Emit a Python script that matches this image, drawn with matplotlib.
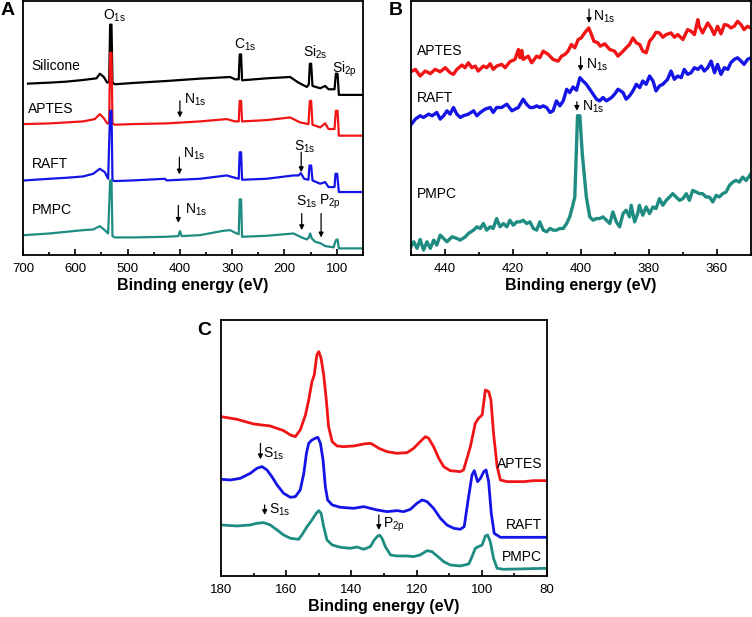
import matplotlib
matplotlib.use("Agg")
import matplotlib.pyplot as plt
from matplotlib.ticker import MultipleLocator

plt.rcParams['font.family'] = ['Liberation Sans', 'DejaVu Sans']
plt.rcParams['mathtext.fontset'] = 'custom'
plt.rcParams['mathtext.rm'] = 'Liberation Sans'
plt.rcParams['mathtext.it'] = 'Liberation Sans:italic'

RED = '#f01414'
BLUE = '#1414e6'
TEAL = '#1f8c82'

# ---- panel A: survey spectra (stacked, a.u.) ----
a_sil_e = [690.4, 648.9, 617.0, 585.1, 559.5, 553.1, 545.5, 539.1, 535.3, 533.4, 530.8, 528.9, 524.4,
           489.3, 425.5, 361.6, 304.1, 294.6, 287.5, 285.6, 283.0, 281.1, 233.9, 189.2, 173.2, 157.3,
           153.4, 151.5, 149.0, 146.4, 131.7, 122.2, 115.8, 104.3, 101.7, 98.5, 96.0, 51.9]
a_sil_i = [517, 520, 523, 528, 533, 547, 537, 520, 523, 695, 695, 520, 515,
           519, 525, 532, 537, 530, 530, 605, 605, 527, 533, 537, 520, 507,
           515, 577, 577, 510, 503, 510, 500, 500, 547, 547, 483, 483]

a_apt_e = [696.8, 648.9, 617.0, 585.1, 562.7, 553.1, 545.5, 539.1, 535.3, 533.4, 530.8, 528.9, 524.4,
           489.3, 425.5, 361.6, 310.5, 294.6, 287.5, 285.6, 283.0, 281.1, 233.9, 189.2, 170.1, 154.1,
           151.5, 149.0, 146.4, 131.7, 122.2, 115.8, 104.3, 101.7, 98.5, 96.0, 51.9]
a_apt_i = [395, 397, 400, 403, 410, 425, 413, 397, 397, 610, 610, 397, 393,
           395, 397, 403, 410, 403, 403, 465, 465, 403, 407, 415, 400, 395,
           465, 465, 393, 385, 397, 380, 380, 435, 435, 360, 360]

a_raft_e = [696.8, 648.9, 617.0, 585.1, 565.9, 553.1, 543.6, 537.2, 533.4, 530.8, 528.9, 524.4,
            489.3, 428.6, 425.5, 361.6, 310.5, 294.6, 287.5, 285.6, 283.0, 281.1, 233.9, 182.8,
            173.2, 168.8, 162.4, 154.1, 152.2, 149.0, 146.4, 131.7, 122.2, 115.8, 104.3, 102.4,
            99.2, 96.0, 51.9]
a_raft_i = [225, 230, 233, 237, 245, 260, 250, 230, 435, 435, 225, 223,
            225, 230, 225, 230, 240, 233, 230, 310, 310, 227, 230, 240,
            240, 247, 230, 227, 270, 270, 225, 215, 220, 205, 205, 245,
            245, 190, 190]

a_pmpc_e = [696.8, 648.9, 617.0, 585.1, 565.9, 553.1, 543.6, 537.2, 533.4, 530.8, 528.9, 524.4,
            489.3, 425.5, 403.1, 399.9, 396.7, 361.6, 316.9, 304.1, 291.4, 287.5, 285.6, 283.0,
            281.1, 233.9, 182.8, 166.9, 157.3, 153.4, 150.9, 147.7, 141.4, 130.5, 122.2, 106.2,
            101.7, 98.5, 96.0, 51.9]
a_pmpc_i = [60, 65, 70, 75, 77, 87, 75, 65, 225, 225, 57, 53,
            53, 55, 57, 72, 57, 60, 73, 75, 65, 63, 168, 168,
            55, 58, 65, 53, 47, 53, 65, 50, 40, 35, 27, 23,
            45, 47, 20, 20]

# ---- panel B: N1s region ----
b_apt_e = [450.0, 448.7, 447.3, 445.8, 444.3, 442.9, 441.4, 439.9, 438.5, 437.5, 436.5, 435.0, 434.1,
           433.1, 432.1, 431.1, 430.2, 428.7, 427.7, 426.7, 425.8, 424.8, 423.3, 422.3, 420.9, 419.4,
           418.4, 417.9, 417.4, 417.0, 415.5, 414.5, 413.0, 412.1, 411.1, 409.6, 408.2, 406.7, 405.7,
           404.7, 403.8, 402.8, 401.8, 400.8, 399.9, 398.9, 397.7, 396.9, 396.2, 395.0, 394.3, 393.0,
           391.5, 390.1, 389.1, 387.6, 386.7, 385.7, 384.7, 383.7, 382.7, 381.8, 380.8, 379.8, 378.8,
           377.9, 376.9, 375.9, 374.9, 373.5, 372.5, 371.5, 370.0, 368.6, 367.6, 366.6, 365.6, 365.2,
           364.2, 362.7, 361.7, 360.8, 359.8, 358.8, 357.8, 356.8, 355.9, 354.9, 353.9, 352.9, 352.0,
           351.0, 350.0]
b_apt_i = [553, 560, 540, 555, 547, 560, 553, 565, 550, 545, 560, 573, 565,
           580, 565, 570, 555, 570, 565, 577, 560, 570, 575, 565, 583, 590,
           620, 595, 617, 590, 600, 580, 600, 595, 615, 605, 590, 585, 600,
           605, 615, 635, 625, 650, 655, 670, 685, 665, 645, 640, 630, 637,
           620, 615, 600, 615, 625, 635, 655, 640, 635, 615, 610, 645, 657,
           672, 670, 657, 665, 670, 657, 665, 650, 680, 675, 665, 710, 690,
           670, 700, 685, 665, 690, 667, 695, 693, 685, 690, 705, 695, 680,
           690, 685]

b_raft_e = [450.0, 448.7, 447.3, 446.3, 444.8, 443.8, 442.4, 441.4, 440.4, 439.4, 438.5, 437.5, 436.5,
            435.5, 434.6, 433.1, 431.6, 430.6, 429.6, 428.2, 426.7, 425.8, 424.8, 423.3, 421.8, 420.3,
            419.4, 418.4, 417.0, 416.0, 415.0, 414.0, 413.0, 412.1, 411.1, 410.1, 409.1, 408.2, 407.2,
            406.2, 405.2, 404.2, 403.3, 402.3, 401.3, 400.3, 399.4, 398.4, 397.4, 396.4, 395.4, 394.5,
            393.5, 392.5, 391.0, 390.1, 389.1, 387.6, 386.7, 385.7, 384.7, 383.7, 382.7, 381.8, 380.8,
            379.8, 378.8, 377.9, 376.9, 375.9, 374.5, 373.5, 372.5, 371.5, 370.5, 369.6, 368.6, 367.6,
            366.6, 365.6, 364.6, 363.7, 362.7, 361.7, 360.7, 359.8, 358.8, 357.8, 356.8, 355.9, 354.9,
            353.9, 352.9, 352.0, 351.0, 350.0]
b_raft_i = [393, 410, 420, 415, 425, 420, 430, 410, 420, 435, 425, 445, 425,
            415, 420, 425, 435, 420, 430, 440, 445, 430, 445, 445, 455, 435,
            440, 445, 470, 455, 445, 445, 450, 445, 450, 445, 430, 435, 465,
            450, 465, 500, 490, 507, 497, 535, 525, 515, 500, 485, 470, 465,
            475, 465, 475, 485, 500, 490, 470, 480, 495, 515, 505, 525, 515,
            540, 525, 495, 510, 515, 530, 555, 530, 540, 535, 560, 545, 550,
            565, 560, 570, 555, 565, 585, 550, 575, 545, 565, 560, 580, 590,
            595, 585, 575, 590, 595]

b_pmpc_e = [450.0, 449.2, 448.2, 447.3, 446.3, 445.3, 444.3, 443.3, 442.4, 441.4, 440.4, 439.4, 437.9,
            436.5, 435.5, 434.0, 433.1, 431.6, 430.6, 429.6, 428.7, 427.7, 426.7, 425.8, 425.3, 424.8,
            423.8, 422.8, 421.8, 420.9, 419.9, 418.9, 417.9, 417.0, 416.0, 415.0, 414.0, 413.0, 412.1,
            411.1, 410.1, 409.1, 408.2, 407.2, 406.2, 405.2, 404.2, 403.3, 402.5, 401.8, 401.0, 400.3,
            399.6, 398.4, 397.4, 396.4, 395.4, 394.5, 393.5, 392.5, 391.5, 390.6, 389.6, 388.6, 387.6,
            386.7, 385.7, 385.2, 384.2, 383.3, 382.8, 381.8, 380.8, 379.8, 378.8, 377.9, 376.9, 375.9,
            374.9, 373.9, 373.0, 372.0, 371.0, 370.0, 369.0, 368.1, 367.1, 366.1, 365.1, 364.2, 363.2,
            362.2, 361.2, 360.2, 359.3, 358.3, 357.3, 356.3, 355.3, 354.4, 353.4, 352.4, 351.4, 350.0]
b_pmpc_i = [25, 40, 20, 47, 15, 40, 20, 45, 30, 60, 50, 40, 55,
            50, 45, 55, 65, 75, 85, 80, 95, 75, 85, 80, 95, 110,
            85, 95, 85, 105, 90, 100, 100, 105, 95, 100, 80, 75, 100,
            75, 70, 80, 75, 75, 80, 80, 95, 115, 145, 175, 420, 420,
            305, 175, 115, 105, 110, 110, 115, 105, 95, 130, 100, 85, 125,
            135, 115, 150, 100, 125, 150, 120, 145, 125, 145, 140, 170, 150,
            165, 175, 185, 175, 165, 170, 185, 165, 195, 190, 185, 185, 175,
            175, 160, 180, 175, 185, 190, 210, 220, 225, 220, 235, 225, 245]

# ---- panel C: Si/S/P region ----
c_apt_e = [180.0, 175.1, 170.0, 164.9, 160.8, 158.7, 157.2, 155.7, 154.1, 153.1, 152.1, 151.4, 150.6,
           150.0, 149.3, 148.5, 147.7, 147.0, 145.9, 144.4, 142.4, 139.3, 136.2, 134.2, 133.2, 131.6,
           129.1, 126.0, 122.9, 120.9, 118.9, 117.3, 116.3, 114.8, 113.2, 111.7, 109.7, 106.6, 105.6,
           103.5, 102.0, 101.0, 99.9, 98.9, 97.9, 97.2, 96.4, 95.3, 94.3, 92.3, 87.2, 84.1, 80.0]
c_apt_i = [478, 470, 456, 450, 436, 423, 418, 438, 483, 528, 583, 603, 663,
           673, 653, 603, 528, 448, 403, 390, 388, 390, 396, 398, 393, 383,
           373, 368, 370, 383, 403, 418, 413, 388, 353, 328, 316, 313, 318,
           388, 458, 473, 483, 558, 553, 528, 428, 328, 288, 283, 283, 286, 286]

c_raft_e = [180.0, 177.1, 174.1, 171.0, 169.0, 167.4, 165.9, 164.4, 162.8, 160.8, 158.7, 157.2, 155.7,
            154.6, 153.8, 153.1, 152.1, 151.1, 150.3, 149.5, 148.7, 148.0, 147.3, 145.9, 143.4, 139.3,
            136.2, 134.2, 132.1, 129.1, 126.0, 124.0, 121.9, 119.9, 118.3, 116.8, 114.8, 112.7, 110.7,
            108.6, 106.6, 105.4, 104.2, 103.0, 102.3, 101.3, 100.4, 99.4, 98.7, 97.9, 97.1, 96.2,
            94.3, 80.0]
c_raft_i = [290, 288, 293, 308, 323, 328, 318, 298, 273, 248, 236, 238, 258,
            308, 368, 398, 408, 413, 416, 398, 348, 268, 228, 213, 206, 203,
            208, 203, 198, 193, 196, 193, 200, 218, 228, 223, 203, 173, 153,
            143, 140, 148, 228, 303, 316, 283, 293, 313, 318, 283, 188, 128,
            116, 116]

c_pmpc_e = [180.0, 175.1, 171.0, 169.0, 166.9, 164.9, 162.8, 160.8, 158.7, 156.2, 155.2, 153.6, 152.1,
            150.8, 150.0, 149.3, 148.5, 147.5, 145.9, 143.4, 140.3, 138.3, 136.2, 134.2, 133.0, 131.9,
            131.3, 130.6, 129.6, 128.0, 126.0, 122.9, 120.9, 118.9, 116.8, 115.3, 113.7, 111.7, 109.7,
            106.6, 104.0, 103.0, 102.0, 101.0, 99.9, 98.9, 98.2, 97.4, 96.4, 95.3, 93.3, 80.0]
c_pmpc_i = [153, 150, 153, 158, 160, 153, 138, 123, 113, 110, 123, 148, 168,
            188, 196, 188, 148, 108, 93, 86, 83, 87, 80, 88, 108, 120,
            122, 113, 88, 63, 60, 60, 58, 63, 76, 73, 60, 43, 33,
            30, 36, 58, 83, 88, 93, 120, 123, 103, 53, 23, 20, 23]


def sub(name, s):
    return name + r'$_{\mathrm{' + s + '}}$'


def style_axes(ax, xlim, major, minor):
    ax.set_xlim(*xlim)
    ax.xaxis.set_major_locator(MultipleLocator(major))
    ax.xaxis.set_minor_locator(MultipleLocator(minor))
    ax.set_yticks([])
    ax.tick_params(axis='x', which='major', direction='in', length=4, width=1.2,
                   labelsize=9.5, pad=6, top=False)
    ax.tick_params(axis='x', which='minor', direction='in', length=2.5, width=1.2, top=False)
    for sp in ax.spines.values():
        sp.set_linewidth(1.3)
    ax.set_xlabel('Binding energy (eV)', fontsize=11.5, fontweight='bold', labelpad=2)


def arrow(ax, x, y0, y1):
    ax.annotate('', xy=(x, y1), xytext=(x, y0),
                arrowprops=dict(arrowstyle='-|>', color='black', lw=0.9,
                                mutation_scale=7, shrinkA=0, shrinkB=0))


fig = plt.figure(figsize=(7.52, 6.17), dpi=100)
fs = 10

# panel A
axA = fig.add_axes([0.0306, 0.5867, 0.452, 0.411])
axA.plot(a_sil_e, a_sil_i, color='black', lw=1.6)
axA.plot(a_apt_e, a_apt_i, color=RED, lw=1.6)
axA.plot(a_raft_e, a_raft_i, color=BLUE, lw=1.6)
axA.plot(a_pmpc_e, a_pmpc_i, color=TEAL, lw=1.6)
axA.set_ylim(0, 765)
style_axes(axA, (700, 50), 100, 50)
axA.text(526, 722, sub('O', '1s'), fontsize=fs, ha='center', va='center')
axA.text(684, 570, 'Silicone', fontsize=fs, va='center')
axA.text(276, 635, sub('C', '1s'), fontsize=fs, ha='center', va='center')
axA.text(141, 610, sub('Si', '2s'), fontsize=fs, ha='center', va='center')
axA.text(86, 560, sub('Si', '2p'), fontsize=fs, ha='center', va='center')
axA.text(690, 440, 'APTES', fontsize=fs, va='center')
axA.text(684, 275, 'RAFT', fontsize=fs, va='center')
axA.text(684, 135, 'PMPC', fontsize=fs, va='center')
arrow(axA, 400, 465, 415)
axA.text(392, 467, sub('N', '1s'), fontsize=fs, va='center')
arrow(axA, 401, 295, 243)
axA.text(395, 305, sub('N', '1s'), fontsize=fs, va='center')
arrow(axA, 168, 310, 250)
axA.text(162, 325, sub('S', '1s'), fontsize=fs, ha='center', va='center')
arrow(axA, 403, 150, 97)
axA.text(390, 135, sub('N', '1s'), fontsize=fs, va='center')
arrow(axA, 167, 125, 75)
axA.text(157, 160, sub('S', '1s'), fontsize=fs, ha='center', va='center')
arrow(axA, 130, 125, 53)
axA.text(114, 160, sub('P', '2p'), fontsize=fs, ha='center', va='center')
fig.text(0.001, 0.997, 'A', fontsize=14, fontweight='bold', ha='left', va='top')

# panel B
axB = fig.add_axes([0.5465, 0.5867, 0.452, 0.411])
axB.plot(b_apt_e, b_apt_i, color=RED, lw=2.4)
axB.plot(b_raft_e, b_raft_i, color=BLUE, lw=2.4)
axB.plot(b_pmpc_e, b_pmpc_i, color=TEAL, lw=2.4)
axB.set_ylim(0, 765)
style_axes(axB, (450, 350), 20, 10)
axB.text(448.2, 615, 'APTES', fontsize=fs, va='center')
axB.text(448.2, 475, 'RAFT', fontsize=fs, va='center')
axB.text(448.2, 185, 'PMPC', fontsize=fs, va='center')
arrow(axB, 397.6, 742, 700)
axB.text(396.3, 720, sub('N', '1s'), fontsize=fs, va='center')
arrow(axB, 400.1, 598, 555)
axB.text(398.6, 575, sub('N', '1s'), fontsize=fs, va='center')
arrow(axB, 401.2, 462, 435)
axB.text(399.7, 447, sub('N', '1s'), fontsize=fs, va='center')
fig.text(0.517, 0.997, 'B', fontsize=14, fontweight='bold', ha='left', va='top')

# panel C
axC = fig.add_axes([0.2939, 0.0665, 0.4335, 0.4149])
axC.plot(c_apt_e, c_apt_i, color=RED, lw=2.0)
axC.plot(c_raft_e, c_raft_i, color=BLUE, lw=2.0)
axC.plot(c_pmpc_e, c_pmpc_i, color=TEAL, lw=2.0)
axC.set_ylim(0, 768)
style_axes(axC, (180, 80), 20, 10)
axC.text(81.5, 336, 'APTES', fontsize=fs, ha='right', va='center')
axC.text(81.5, 153, 'RAFT', fontsize=fs, ha='right', va='center')
axC.text(81.5, 56, 'PMPC', fontsize=fs, ha='right', va='center')
arrow(axC, 167.9, 398, 350)
axC.text(167.0, 368, sub('S', '1s'), fontsize=fs, va='center')
arrow(axC, 166.6, 213, 183)
axC.text(165.4, 200, sub('S', '1s'), fontsize=fs, va='center')
arrow(axC, 131.6, 183, 138)
axC.text(130.4, 153, sub('P', '2p'), fontsize=fs, va='center')
fig.text(0.262, 0.478, 'C', fontsize=14, fontweight='bold', ha='left', va='top')

fig.savefig('out.png', dpi=100)
